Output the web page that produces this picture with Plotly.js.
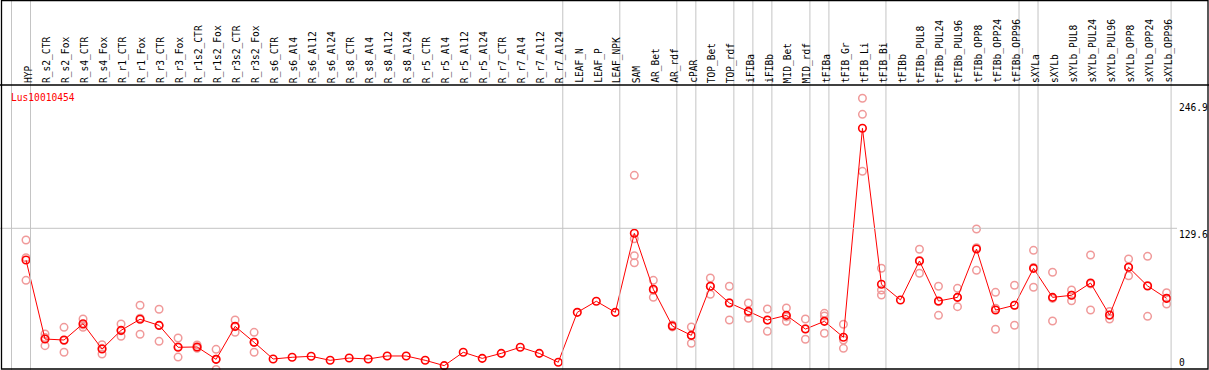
<!DOCTYPE html>
<html>
<head>
<meta charset="utf-8">
<script src="https://cdn.plot.ly/plotly-3.0.1.min.js"></script>
<style>html,body{margin:0;padding:0;background:#fff;}#chart{width:1209px;height:370px;}</style>
</head>
<body>
<div id="chart"></div>
<script>
const categories = ["HYP","R_s2_CTR","R_s2_Fox","R_s4_CTR","R_s4_Fox","R_r1_CTR","R_r1_Fox","R_r3_CTR","R_r3_Fox","R_r1s2_CTR","R_r1s2_Fox","R_r3s2_CTR","R_r3s2_Fox","R_s6_CTR","R_s6_Al4","R_s6_Al12","R_s6_Al24","R_s8_CTR","R_s8_Al4","R_s8_Al12","R_s8_Al24","R_r5_CTR","R_r5_Al4","R_r5_Al12","R_r5_Al24","R_r7_CTR","R_r7_Al4","R_r7_Al12","R_r7_Al24","LEAF_N","LEAF_P","LEAF_NPK","SAM","AR_Bet","AR_rdf","cPAR","TOP_Bet","TOP_rdf","iFIBa","iFIBb","MID_Bet","MID_rdf","tFIBa","tFIB_Gr","tFIB_Li","tFIB_Bi","tFIBb","tFIBb_PUL8","tFIBb_PUL24","tFIBb_PUL96","tFIBb_OPP8","tFIBb_OPP24","tFIBb_OPP96","sXYLa","sXYLb","sXYLb_PUL8","sXYLb_PUL24","sXYLb_PUL96","sXYLb_OPP8","sXYLb_OPP24","sXYLb_OPP96"];

const meanValues = [100.4,27.6,26.7,41.7,18.4,35.6,45.8,40.2,20.0,20.3,8.9,39.3,24.6,9.2,10.8,11.7,8.0,10.1,9.2,12.0,12.0,8.0,3.1,15.4,9.8,14.4,20.0,14.4,6.2,52.2,62.4,52.2,125.0,73.4,39.6,31.0,76.2,60.8,53.1,45.1,49.4,36.8,43.9,29.2,221.7,78.0,63.6,99.5,62.6,66.0,110.5,54.3,58.7,92.7,66.0,67.9,79.2,49.7,93.7,76.5,65.1];

const rep1 = [118.8,32.2,38.4,46.1,22.4,41.5,58.7,55.0,28.6,22.1,18.1,45.1,33.8,null,null,null,null,null,null,null,null,null,null,null,null,null,null,null,null,null,null,null,178.4,81.7,40.5,38.7,83.8,76.2,60.8,55.3,56.2,46.1,51.3,41.2,249.4,92.8,null,110.3,76.2,74.3,129.0,70.6,77.1,109.3,89.1,72.8,105.0,53.0,101.3,103.8,70.3];
const rep2 = [81.7,21.5,15.4,38.4,13.8,30.1,32.0,25.5,11.0,19.0,-0.5,33.8,15.4,null,null,null,null,null,null,null,null,null,null,null,null,null,null,null,null,null,null,null,97.9,66.0,38.8,23.7,68.8,45.1,46.7,34.7,43.9,27.4,32.9,19.0,182.1,68.2,null,88.2,49.4,57.4,90.9,36.6,40.3,75.3,44.2,62.9,54.3,46.1,85.9,48.5,59.9];
const rep3 = [102.5,29.0,26.3,40.6,19.0,35.2,46.7,40.0,20.4,20.0,9.0,39.0,24.6,null,null,null,null,null,null,null,null,null,null,null,null,null,null,null,null,null,null,null,104.4,72.5,null,30.7,76.0,61.0,52.0,45.0,48.0,37.0,48.8,26.7,234.6,72.8,null,100.0,62.0,66.0,111.7,56.0,58.7,93.6,65.0,68.0,78.4,49.5,93.8,77.0,65.0];
const rep4 = [null,null,null,null,null,null,null,null,null,null,null,null,null,null,null,null,null,null,null,null,null,null,null,null,null,null,null,null,null,null,null,null,120.0,null,null,null,null,null,null,null,null,null,null,null,null,null,null,null,null,null,null,null,null,null,null,null,null,null,null,null,null];

const geneName = "Lus10010454";
const yTickVals = [0, 129.6, 246.9];
const yTickText = ["0", "129.6", "246.9"];
const groupEnds = [-1,0,28,31,34,35,37,38,39,41,42,45,52,53,60];

// pixel geometry
const W = 1209, H = 370;
const X0 = 26, DX = 19.01;     // px of first category, px per category
const Y0 = 369, KY = 1.0856;   // px of value 0, px per unit
const xIdx = px => (px - X0) / DX;
const yVal = py => (Y0 - py) / KY;
const pyPaper = py => 1 - py / H;

const idx = categories.map((_, i) => i);
const mono = 'DejaVu Sans Mono, monospace';
const fs = 9.6;

const repStyle = {
  type: 'scatter', mode: 'markers', x: idx, hoverinfo: 'skip', showlegend: false,
  marker: {symbol: 'circle-open', size: 7.5, color: '#f09a9a', line: {width: 1.5, color: '#f09a9a'}}
};
const traces = [rep1, rep2, rep3, rep4].map(r => Object.assign({}, repStyle, {y: r}));
traces.push({
  type: 'scatter', mode: 'lines+markers', x: idx, y: meanValues, showlegend: false,
  line: {color: '#ff0000', width: 1},
  marker: {symbol: 'circle-open', size: 7.5, color: '#ff0000', line: {width: 1.6, color: '#ff0000'}}
});

const shapes = [];
groupEnds.forEach(g => {
  shapes.push({type: 'line', xref: 'x', yref: 'paper', x0: g + 4.5 / DX, x1: g + 4.5 / DX, y0: 0, y1: 1,
    line: {color: '#c4c4c4', width: 1}});
});
shapes.push({type: 'line', xref: 'paper', yref: 'y', x0: 0, x1: 1177 / W, y0: yTickVals[1], y1: yTickVals[1],
  line: {color: '#c4c4c4', width: 1}});
shapes.push({type: 'line', xref: 'paper', yref: 'paper', x0: 0, x1: 1, y0: pyPaper(85), y1: pyPaper(85),
  line: {color: '#000', width: 1.3}});
shapes.push({type: 'rect', xref: 'paper', yref: 'paper', x0: 1.5 / W, x1: 1208 / W, y0: pyPaper(369), y1: pyPaper(0.5),
  line: {color: '#000', width: 1.3}});

const annotations = [];
categories.forEach((c, i) => {
  annotations.push({x: i, xref: 'x', y: pyPaper(84), yref: 'paper', text: c, showarrow: false,
    textangle: -90, xanchor: 'center', yanchor: 'bottom', borderpad: 0, xshift: 2,
    font: {family: mono, size: fs, color: '#000'}});
});
annotations.push({x: 9.5 / W, xref: 'paper', y: pyPaper(97), yref: 'paper', text: geneName, showarrow: false,
  xanchor: 'left', yanchor: 'middle', borderpad: 0, font: {family: mono, size: fs, color: '#ff0000'}});
yTickVals.forEach((v, k) => {
  annotations.push({x: 1178 / W, xref: 'paper', y: v, yref: 'y', text: yTickText[k], showarrow: false,
    xanchor: 'left', yanchor: v === 0 ? 'bottom' : 'top', borderpad: 0,
    font: {family: mono, size: fs, color: '#000'}});
});

const layout = {
  width: W, height: H,
  margin: {l: 0, r: 0, t: 0, b: 0, pad: 0},
  paper_bgcolor: '#fff', plot_bgcolor: '#fff',
  xaxis: {range: [xIdx(0), xIdx(W)], visible: false, showgrid: false, zeroline: false, fixedrange: true},
  yaxis: {range: [yVal(H), yVal(0)], visible: false, showgrid: false, zeroline: false, fixedrange: true},
  shapes: shapes,
  annotations: annotations,
  showlegend: false
};

Plotly.newPlot('chart', traces, layout, {staticPlot: true, displayModeBar: false});
</script>
</body>
</html>
